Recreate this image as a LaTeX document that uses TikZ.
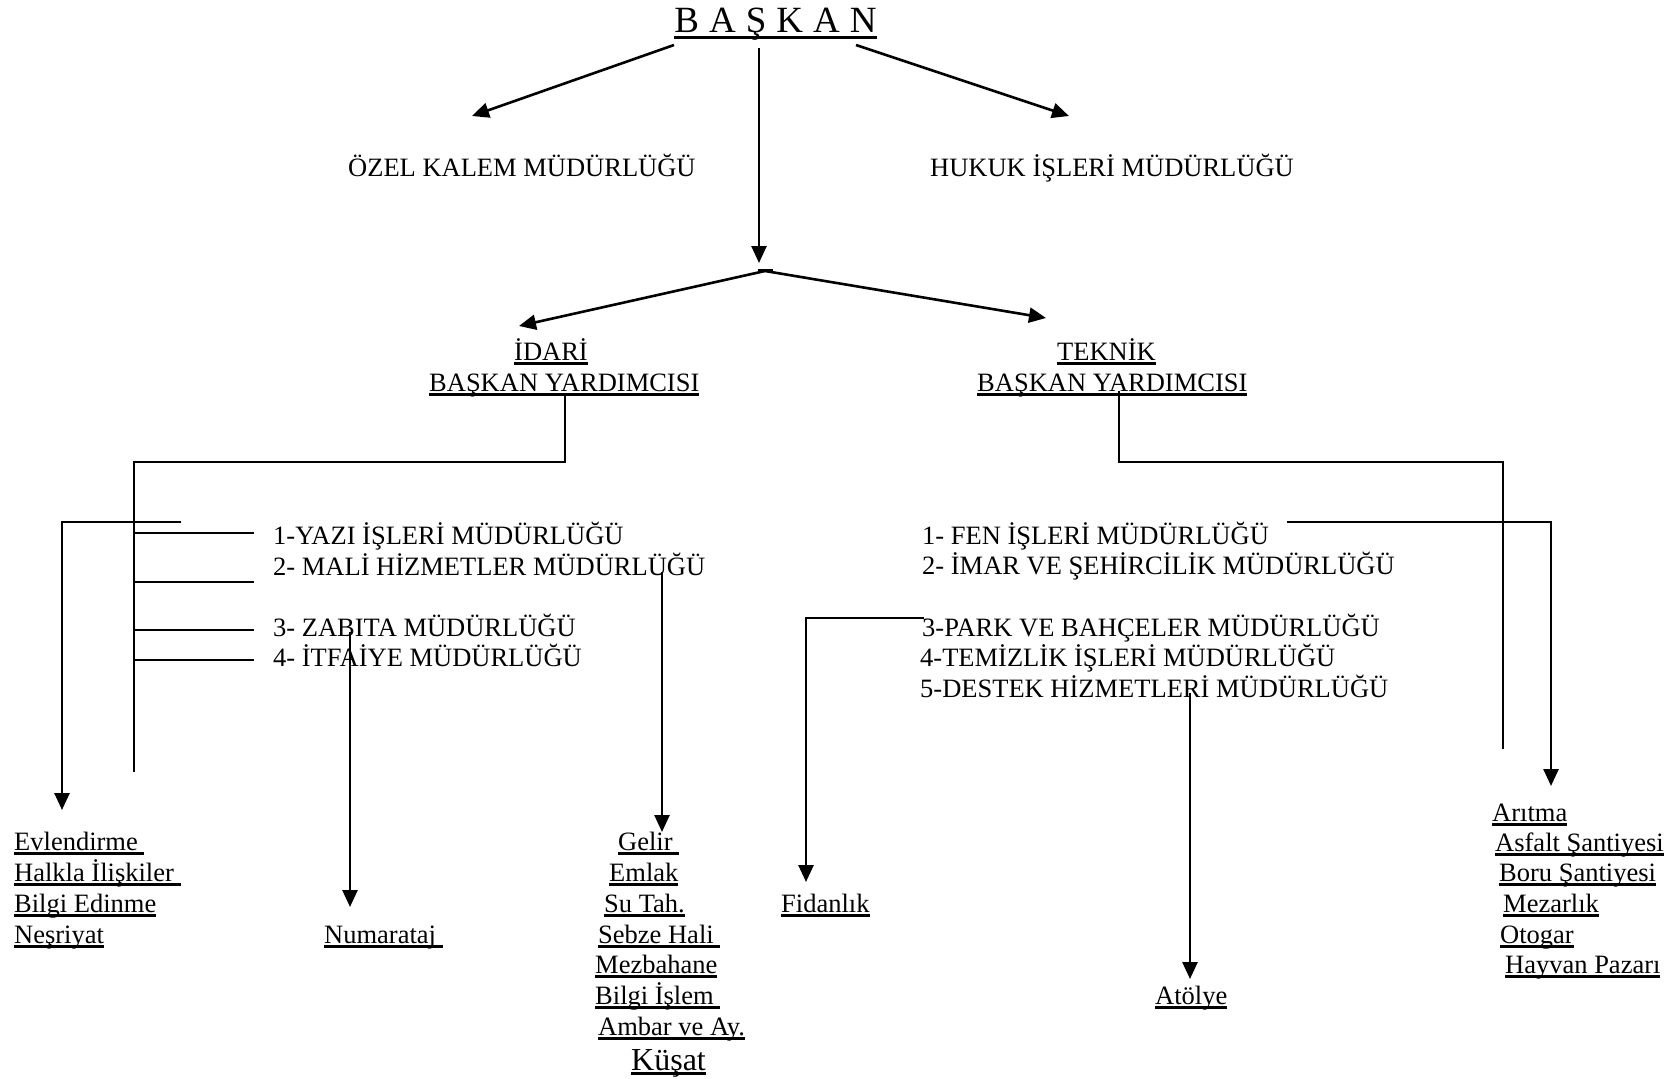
\documentclass[tikz,border=0pt]{standalone}
\usepackage{fontspec}
\setmainfont{Liberation Serif}
\usetikzlibrary{arrows.meta}
\newcommand\ulx[1]{\setbox0\hbox{#1}\rlap{\rule[-4.5pt]{\wd0}{2.4pt}}\box0}
\newcommand\ulbig[1]{\setbox0\hbox{#1}\rlap{\rule[-6.5pt]{\wd0}{3.2pt}}\box0}
\begin{document}
\begin{tikzpicture}[x=1pt,y=-1pt,
  txt/.style={inner sep=0pt,anchor=base west,font=\fontsize{26.5}{31}\selectfont},
  ln/.style={line width=2.6pt},
  arr/.style={line width=2.6pt,-{Triangle[length=17pt,width=15pt]}}]
\useasboundingbox (0,0) rectangle (1677,1078);

% top level
\node[txt,anchor=base,font=\fontsize{37}{40}\selectfont] (baskan) at (775.5,33) {\ulbig{B\hspace{10pt}A\hspace{10pt}Ş\hspace{10pt}K\hspace{10pt}A\hspace{10pt}N}};
\node[txt] (ozel) at (348,176) {ÖZEL KALEM MÜDÜRLÜĞÜ};
\node[txt] (hukuk) at (930,176) {HUKUK İŞLERİ MÜDÜRLÜĞÜ};

\node[txt] (idari1) at (514,360) {\ulx{İDARİ}};
\node[txt] (idari2) at (429,391) {\ulx{BAŞKAN YARDIMCISI}};
\node[txt] (teknik1) at (1057,360) {\ulx{TEKNİK}};
\node[txt] (teknik2) at (977,391) {\ulx{BAŞKAN YARDIMCISI}};

% left list
\node[txt] (yazi) at (273,544) {1-YAZI İŞLERİ MÜDÜRLÜĞÜ};
\node[txt] (mali) at (273,575) {2- MALİ HİZMETLER MÜDÜRLÜĞÜ};
\node[txt] (zabita) at (273,636) {3- ZABITA MÜDÜRLÜĞÜ};
\node[txt] (itfaiye) at (273,666) {4- İTFAİYE MÜDÜRLÜĞÜ};

% right list
\node[txt] (fen) at (922,544) {1- FEN İŞLERİ MÜDÜRLÜĞÜ};
\node[txt] (imar) at (922,574) {2- İMAR VE ŞEHİRCİLİK MÜDÜRLÜĞÜ};
\node[txt] (park) at (922,636) {3-PARK VE BAHÇELER MÜDÜRLÜĞÜ};
\node[txt] (temiz) at (920,666) {4-TEMİZLİK İŞLERİ MÜDÜRLÜĞÜ};
\node[txt] (destek) at (920,697) {5-DESTEK HİZMETLERİ MÜDÜRLÜĞÜ};

% bottom lists
\node[txt] (evl) at (14,850) {\ulx{Evlendirme\ }};
\node[txt] (halkla) at (14,881) {\ulx{Halkla İlişkiler\ }};
\node[txt] (bilgied) at (14,912) {\ulx{Bilgi Edinme}};
\node[txt] (nesr) at (14,943) {\ulx{Neşriyat}};

\node[txt] (numar) at (324,943) {\ulx{Numarataj\ }};

\node[txt] (gelir) at (618,850) {\ulx{Gelir\ }};
\node[txt] (emlak) at (609,881) {\ulx{Emlak}};
\node[txt] (sutah) at (604,912) {\ulx{Su Tah.}};
\node[txt] (sebze) at (598,943) {\ulx{Sebze Hali\ }};
\node[txt] (mezb) at (595,973) {\ulx{Mezbahane}};
\node[txt] (bilgiis) at (595,1004) {\ulx{Bilgi İşlem\ }};
\node[txt] (ambar) at (598,1035) {\ulx{Ambar ve Ay.}};
\node[txt,font=\fontsize{32}{36}\selectfont] (kusat) at (631,1070) {\ulx{Küşat}};

\node[txt] (fidan) at (781,912) {\ulx{Fidanlık}};
\node[txt] (atolye) at (1155,1004) {\ulx{Atölye}};

\node[txt] (aritma) at (1492,821) {\ulx{Arıtma}};
\node[txt] (asfalt) at (1495,851) {\ulx{Asfalt Şantiyesi}};
\node[txt] (boru) at (1499,881) {\ulx{Boru Şantiyesi}};
\node[txt] (mezar) at (1503,912) {\ulx{Mezarlık}};
\node[txt] (otogar) at (1500,943) {\ulx{Otogar}};
\node[txt] (hayvan) at (1505,973) {\ulx{Hayvan Pazarı}};

% coordinates
\coordinate (bL) at (674,45);   \coordinate (ozT) at (472,116);
\coordinate (bR) at (856,45);   \coordinate (hkT) at (1069,116);
\coordinate (bM) at (759,48);   \coordinate (jT) at (759,263);
\coordinate (J) at (765,271);
\coordinate (tick1) at (758,270); \coordinate (tick2) at (773,270);
\coordinate (idT) at (519,326); \coordinate (tkT) at (1046,318);

\coordinate (iA) at (565,393); \coordinate (iB) at (565,462);
\coordinate (iC) at (134,462); \coordinate (iD) at (134,772);
\coordinate (e1) at (181,522); \coordinate (e2) at (62,522); \coordinate (eT) at (62,810);
\coordinate (nS) at (350,632); \coordinate (nT) at (350,907);
\coordinate (gS) at (662,572); \coordinate (gT) at (662,832);

\coordinate (tA) at (1119,391); \coordinate (tB) at (1119,462);
\coordinate (tC) at (1503,462); \coordinate (tD) at (1503,749);
\coordinate (a1) at (1287,522); \coordinate (a2) at (1551,522); \coordinate (aT) at (1551,786);
\coordinate (f1) at (924,618); \coordinate (f2) at (806,618); \coordinate (fT) at (806,882);
\coordinate (dS) at (1190,693); \coordinate (dT) at (1190,979);

% top connectors
\draw[arr] (bL) -- (ozT);
\draw[arr] (bR) -- (hkT);
\draw[arr] (bM) -- (jT);
\draw[line width=3pt] (tick1) -- (tick2);
\draw[arr] (J) -- (idT);
\draw[arr] (J) -- (tkT);

% left tree
\draw[ln] (iA) -- (iB) -- (iC) -- (iD);
\foreach \yy in {533,582,630,660} \draw[ln] (134,\yy) -- (254,\yy);
\draw[arr] (e1) -- (e2) -- (eT);
\draw[arr] (nS) -- (nT);
\draw[arr] (gS) -- (gT);

% right tree
\draw[ln] (tA) -- (tB) -- (tC) -- (tD);
\draw[arr] (a1) -- (a2) -- (aT);
\draw[arr] (f1) -- (f2) -- (fT);
\draw[arr] (dS) -- (dT);
\end{tikzpicture}
\end{document}
